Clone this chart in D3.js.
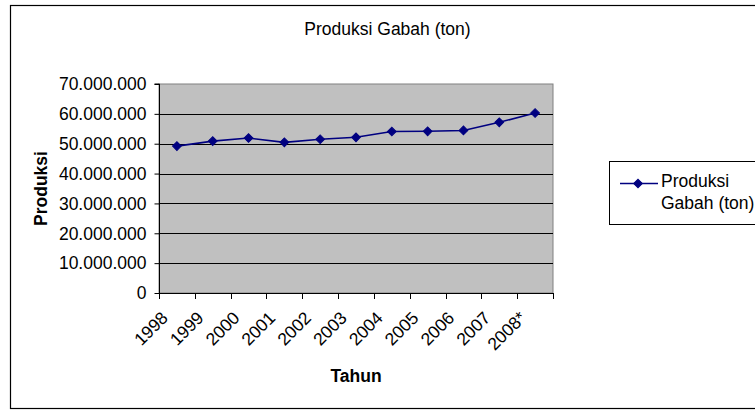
<!DOCTYPE html>
<html>
<head>
<meta charset="utf-8">
<script src="https://cdn.jsdelivr.net/npm/d3@7"></script>
<style>
  html, body { margin: 0; padding: 0; background: #fff; }
  svg { display: block; }
  text { font-family: "Liberation Sans", Arial, sans-serif; fill: #000; }
</style>
</head>
<body>
<svg id="chart" width="755" height="410"></svg>
<script>
const years = ["1998","1999","2000","2001","2002","2003","2004","2005","2006","2007","2008*"];
const produksi = [49200000, 50870000, 51900000, 50460000, 51490000, 52140000, 54090000, 54150000, 54450000, 57160000, 60280000];
const yTicks = [0, 10000000, 20000000, 30000000, 40000000, 50000000, 60000000, 70000000];
const titleText = "Produksi Gabah (ton)";
const xTitle = "Tahun";
const yTitle = "Produksi";
const seriesName = ["Produksi", "Gabah (ton)"];

const FS = 17.5;
const svg = d3.select("#chart");
const plot = { left: 159, right: 553, top: 84, bottom: 293 };

const fmt = d3.formatLocale({ decimal: ",", thousands: ".", grouping: [3], currency: ["", ""] }).format(",d");

const x = d3.scaleBand().domain(years).range([plot.left, plot.right]).padding(0);
const y = d3.scaleLinear().domain([0, 70000000]).range([plot.bottom, plot.top]);

// outer chart border
svg.append("rect")
  .attr("x", 10.5).attr("y", 5.5).attr("width", 760).attr("height", 403)
  .attr("fill", "#fff").attr("stroke", "#000").attr("stroke-width", 1.2);

// plot area
svg.append("rect")
  .attr("x", plot.left).attr("y", plot.top)
  .attr("width", plot.right - plot.left).attr("height", plot.bottom - plot.top)
  .attr("fill", "#c0c0c0").attr("stroke", "#808080").attr("stroke-width", 1);

// gridlines
svg.append("g").selectAll("line")
  .data(yTicks.filter(d => d > 0 && d < 70000000))
  .join("line")
  .attr("x1", plot.left).attr("x2", plot.right)
  .attr("y1", d => Math.round(y(d)) + 0.5).attr("y2", d => Math.round(y(d)) + 0.5)
  .attr("stroke", "#000").attr("stroke-width", 1);

// y axis
const yAxis = svg.append("g")
  .attr("transform", `translate(${plot.left + 0.5},0)`)
  .call(d3.axisLeft(y).tickValues(yTicks).tickSize(5).tickPadding(8).tickFormat(fmt));
yAxis.select(".domain").attr("stroke", "#000").attr("d", `M-5,${plot.top}H0V${plot.bottom}`);
yAxis.selectAll(".tick line").attr("stroke", "#000");
yAxis.selectAll(".tick text")
  .attr("font-size", FS).attr("font-family", '"Liberation Sans", Arial, sans-serif')
  .attr("fill", "#000").attr("dy", "0.33em");

// x axis line
svg.append("line")
  .attr("x1", plot.left).attr("x2", plot.right + 0.5)
  .attr("y1", plot.bottom + 0.5).attr("y2", plot.bottom + 0.5)
  .attr("stroke", "#000").attr("stroke-width", 1);

// x tick marks at band boundaries
const bounds = years.map(d => x(d)).concat([x.range()[1]]);
svg.append("g").selectAll("line")
  .data(bounds)
  .join("line")
  .attr("x1", d => Math.round(d) + 0.5).attr("x2", d => Math.round(d) + 0.5)
  .attr("y1", plot.bottom).attr("y2", plot.bottom + 6)
  .attr("stroke", "#000");

// x labels rotated -45
svg.append("g").selectAll("text")
  .data(years)
  .join("text")
  .attr("transform", d => `translate(${x(d) + x.bandwidth() / 2 - 8},${plot.bottom + 26}) rotate(-45)`)
  .attr("text-anchor", "end")
  .attr("font-size", FS)
  .text(d => d);

// line + markers
const cx = d => x(d) + x.bandwidth() / 2;
const pts = years.map((d, i) => [cx(d), y(produksi[i])]);
svg.append("path")
  .attr("d", d3.line()(pts))
  .attr("fill", "none").attr("stroke", "#000080").attr("stroke-width", 1.6);

const marker = d3.symbol().type(d3.symbolSquare).size(38);
svg.append("g").selectAll("path")
  .data(pts)
  .join("path")
  .attr("transform", d => `translate(${d[0]},${d[1]}) rotate(45)`)
  .attr("d", marker)
  .attr("fill", "#000080").attr("stroke", "#000080").attr("stroke-width", 1);

// title
svg.append("text")
  .attr("x", 387.5).attr("y", 35)
  .attr("text-anchor", "middle").attr("font-size", FS)
  .text(titleText);

// axis titles
svg.append("text")
  .attr("x", (plot.left + plot.right) / 2).attr("y", 382)
  .attr("text-anchor", "middle").attr("font-size", FS).attr("font-weight", "bold")
  .text(xTitle);

svg.append("text")
  .attr("transform", `translate(46.5,${(plot.top + plot.bottom) / 2}) rotate(-90)`)
  .attr("text-anchor", "middle").attr("font-size", FS).attr("font-weight", "bold")
  .text(yTitle);

// legend
const lg = svg.append("g");
lg.append("rect")
  .attr("x", 609.5).attr("y", 161.5).attr("width", 160).attr("height", 63)
  .attr("fill", "#fff").attr("stroke", "#000").attr("stroke-width", 1);
lg.append("line")
  .attr("x1", 620).attr("x2", 658).attr("y1", 183.5).attr("y2", 183.5)
  .attr("stroke", "#000080").attr("stroke-width", 1.6);
lg.append("path")
  .attr("transform", "translate(638,183.5) rotate(45)")
  .attr("d", marker)
  .attr("fill", "#000080").attr("stroke", "#000080");
lg.selectAll("text.leg")
  .data(seriesName)
  .join("text")
  .attr("class", "leg")
  .attr("x", 661).attr("y", (d, i) => 187 + i * 21.5)
  .attr("font-size", FS)
  .text(d => d);
</script>
</body>
</html>
